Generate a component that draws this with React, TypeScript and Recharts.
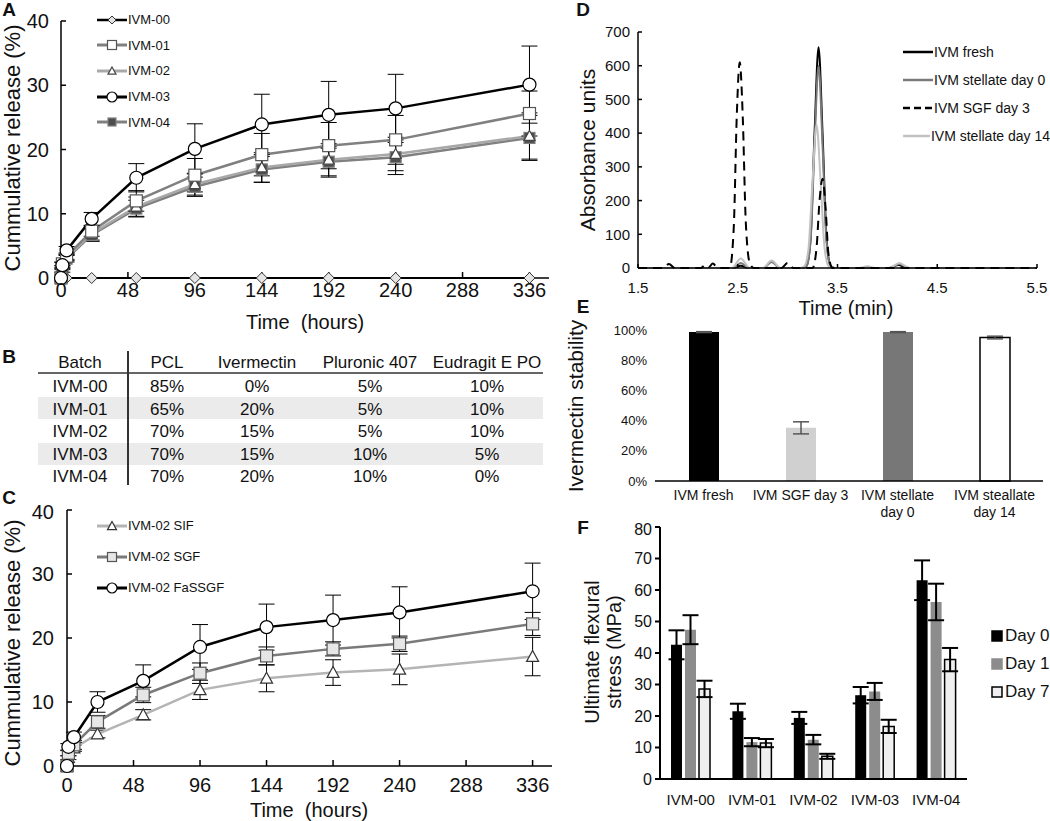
import React from "react";
import { LineChart, Line, BarChart, Bar, Cell, XAxis, YAxis, ErrorBar, Legend } from "recharts";

const FONT = "Arial, 'Liberation Sans', Helvetica, sans-serif";

// ---- A: cumulative release per batch (%)
const hoursA = [0, 1, 4, 22, 54, 96, 144, 192, 240, 336];
const relIvm00 = [0, 0, 0, 0, 0, 0, 0, 0, 0, 0];
const relIvm01 = [0, 2.2, 3.4, 7.3, 12.0, 16.0, 19.2, 20.6, 21.5, 25.6];
const relIvm02 = [0, 1.6, 3.2, 6.9, 11.1, 14.6, 17.2, 18.4, 19.3, 22.1];
const relIvm03 = [0, 2.0, 4.3, 9.2, 15.6, 20.1, 23.9, 25.4, 26.4, 30.1];
const relIvm04 = [0, 1.2, 3.0, 6.7, 10.8, 14.2, 16.9, 18.1, 18.8, 21.8];
const sdIvm01 = [0, 0.3, 0.5, 0.8, 1.6, 2.6, 3.3, 3.6, 3.8, 3.5];
const sdIvm02 = [0, 0.3, 0.5, 1.0, 1.5, 1.7, 2.3, 2.5, 2.6, 3.6];
const sdIvm03 = [0, 0.4, 0.6, 1.0, 2.2, 3.9, 4.7, 5.2, 5.3, 6.0];
const sdIvm04 = [0, 0.3, 0.5, 1.0, 1.3, 1.5, 2.0, 2.4, 2.7, 3.5];
const hourTicks = [0, 48, 96, 144, 192, 240, 288, 336];

// ---- B: composition table
const tableHead = ["Batch", "PCL", "Ivermectin", "Pluronic 407", "Eudragit E PO"];
const batches = ["IVM-00", "IVM-01", "IVM-02", "IVM-03", "IVM-04"];
const pclPct = ["85%", "65%", "70%", "70%", "70%"];
const ivmPct = ["0%", "20%", "15%", "15%", "20%"];
const pluronicPct = ["5%", "5%", "5%", "10%", "10%"];
const eudragitPct = ["10%", "10%", "10%", "5%", "0%"];

// ---- C: IVM-02 release in different media
const hoursC = [0, 1, 5, 22, 55, 96, 144, 192, 240, 336];
const relSIF = [0, 1.3, 2.8, 5.0, 8.0, 11.9, 13.7, 14.6, 15.1, 17.1];
const relSGF = [0, 2.0, 3.3, 6.9, 11.1, 14.5, 17.2, 18.3, 19.1, 22.2];
const relFaSSGF = [0, 3.0, 4.5, 10.0, 13.3, 18.6, 21.7, 22.8, 24.0, 27.3];
const sdSIF = [0, 0.3, 0.5, 0.6, 0.8, 1.5, 2.1, 2.0, 2.4, 3.0];
const sdSGF = [0, 0.4, 0.7, 1.0, 1.2, 1.6, 1.4, 1.1, 1.2, 1.8];
const sdFaSSGF = [0, 0.5, 0.8, 1.6, 2.5, 3.5, 3.6, 3.9, 4.0, 4.4];

// ---- D: chromatograms (min, absorbance)
const freshT = [1.5, 2.45, 2.53, 2.61, 3.15, 3.19, 3.23, 3.27, 3.31, 3.35, 3.39, 3.43, 3.47, 4.02, 4.11, 4.2, 5.5];
const freshY = [0, 0, 7, 0, 0, 7, 88, 400, 655, 400, 88, 7, 0, 0, 9, 0, 0];
const day0T = [1.5, 2.45, 2.53, 2.61, 2.76, 2.84, 2.92, 3.15, 3.19, 3.23, 3.27, 3.31, 3.35, 3.39, 3.43, 3.47, 4.02, 4.12, 4.22, 5.5];
const day0Y = [0, 0, 15, 0, 0, 18, 0, 0, 6, 80, 365, 600, 365, 80, 6, 0, 0, 12, 0, 0];
const day14T = [1.5, 2.44, 2.53, 2.62, 2.75, 2.84, 2.93, 3.13, 3.17, 3.21, 3.25, 3.29, 3.33, 3.37, 3.41, 3.46, 3.72, 3.8, 3.88, 4.02, 4.12, 4.22, 5.5];
const day14Y = [0, 0, 28, 0, 0, 22, 0, 0, 6, 60, 260, 425, 260, 60, 6, 0, 0, 5, 0, 0, 15, 0, 0];
const sgfT = [1.5, 1.75, 1.81, 1.87, 2.13, 2.18, 2.21, 2.25, 2.3, 2.42, 2.46, 2.49, 2.52, 2.55, 2.58, 2.62, 2.66, 2.94, 3.0, 3.06, 3.25, 3.29, 3.32, 3.35, 3.38, 3.41, 3.45, 5.5];
const sgfY = [0, 0, 12, 0, 0, 10, 3, 13, 0, 0, 120, 450, 610, 450, 140, 15, 0, 0, 15, 0, 0, 60, 200, 265, 180, 40, 0, 0];

// ---- E: ivermectin stability (%)
const stabNames = ["IVM fresh", "IVM SGF day 3", "IVM stellate\nday 0", "IVM steallate\nday 14"];
const stabValues = [98.6, 35.2, 98.6, 95.0];
const stabErr = [0.3, 4.0, 0.3, 0.9];

// ---- F: ultimate flexural stress (MPa)
const flexBatches = ["IVM-00", "IVM-01", "IVM-02", "IVM-03", "IVM-04"];
const flexDay0 = [42.6, 21.5, 19.4, 26.6, 63.1];
const flexDay1 = [47.4, 11.7, 12.5, 27.8, 56.2];
const flexDay7 = [28.6, 11.4, 7.2, 16.7, 37.9];
const errDay0 = [4.6, 2.4, 1.9, 2.6, 6.3];
const errDay1 = [4.6, 1.3, 1.5, 2.7, 5.8];
const errDay7 = [2.6, 1.3, 0.8, 2.1, 3.7];

const releaseA = hoursA.map((t, i) => ({
  t,
  ivm00: relIvm00[i], ivm01: relIvm01[i], ivm02: relIvm02[i], ivm03: relIvm03[i], ivm04: relIvm04[i],
  e01: sdIvm01[i], e02: sdIvm02[i], e03: sdIvm03[i], e04: sdIvm04[i],
}));
const releaseC = hoursC.map((t, i) => ({
  t, sif: relSIF[i], sgf: relSGF[i], fassgf: relFaSSGF[i],
  eSif: sdSIF[i], eSgf: sdSGF[i], eFassgf: sdFaSSGF[i],
}));
const toTrace = (ts: number[], ys: number[]) => ts.map((t, i) => ({ t, v: ys[i] }));
const stability = stabNames.map((name, i) => ({ name, value: stabValues[i], err: stabErr[i] }));
const flexRows = flexBatches.map((batch, i) => ({
  batch, d0: flexDay0[i], d1: flexDay1[i], d7: flexDay7[i], e0: errDay0[i], e1: errDay1[i], e7: errDay7[i],
}));

type MarkerKind = "diamond" | "square" | "triangle" | "circle";

const Marker = ({ kind, cx, cy, size, fill, stroke }: any) => {
  const h = size / 2;
  if (kind === "diamond")
    return <polygon points={`${cx},${cy - h} ${cx + h},${cy} ${cx},${cy + h} ${cx - h},${cy}`} fill={fill} stroke={stroke} strokeWidth={1} />;
  if (kind === "square")
    return <rect x={cx - h} y={cy - h} width={size} height={size} fill={fill} stroke={stroke} strokeWidth={1.2} />;
  if (kind === "triangle")
    return <polygon points={`${cx},${cy - h} ${cx + h},${cy + h * 0.8} ${cx - h},${cy + h * 0.8}`} fill={fill} stroke={stroke} strokeWidth={1.2} />;
  return <circle cx={cx} cy={cy} r={h} fill={fill} stroke={stroke} strokeWidth={1.2} />;
};

const seriesA = [
  { key: "ivm00", label: "IVM-00", color: "#000", width: 2, kind: "diamond" as MarkerKind, size: 11, fill: "#e4e4e4", mstroke: "#333", err: "" },
  { key: "ivm01", label: "IVM-01", color: "#808080", width: 2.5, kind: "square" as MarkerKind, size: 12, fill: "#fff", mstroke: "#555", err: "e01" },
  { key: "ivm02", label: "IVM-02", color: "#a8a8a8", width: 2.5, kind: "triangle" as MarkerKind, size: 11, fill: "#fff", mstroke: "#444", err: "e02" },
  { key: "ivm03", label: "IVM-03", color: "#000", width: 2.5, kind: "circle" as MarkerKind, size: 13, fill: "#fff", mstroke: "#000", err: "e03" },
  { key: "ivm04", label: "IVM-04", color: "#808080", width: 2.5, kind: "square" as MarkerKind, size: 11, fill: "#4d4d4d", mstroke: "#808080", err: "e04" },
];
const drawOrderA = ["ivm00", "ivm04", "ivm02", "ivm01", "ivm03"];

const seriesC = [
  { key: "sif", label: "IVM-02 SIF", color: "#b4b4b4", width: 2.5, kind: "triangle" as MarkerKind, size: 12, fill: "#fff", mstroke: "#333", err: "eSif" },
  { key: "sgf", label: "IVM-02 SGF", color: "#7a7a7a", width: 2.5, kind: "square" as MarkerKind, size: 12, fill: "#e6e6e6", mstroke: "#555", err: "eSgf" },
  { key: "fassgf", label: "IVM-02 FaSSGF", color: "#000", width: 2.5, kind: "circle" as MarkerKind, size: 13, fill: "#fff", mstroke: "#000", err: "eFassgf" },
];

const tracesD = [
  { label: "IVM fresh", data: toTrace(freshT, freshY), color: "#000", dash: undefined },
  { label: "IVM stellate day 0", data: toTrace(day0T, day0Y), color: "#7a7a7a", dash: undefined },
  { label: "IVM SGF day 3", data: toTrace(sgfT, sgfY), color: "#000", dash: "9 6" },
  { label: "IVM stellate day 14", data: toTrace(day14T, day14Y), color: "#c2c2c2", dash: undefined },
];
const drawOrderD = [0, 1, 3, 2];

const stabColors = ["#000", "#d0d0d0", "#777", "#fff"];

const flexSeries = [
  { key: "d0", err: "e0", label: "Day 0", fill: "#000", stroke: "#000" },
  { key: "d1", err: "e1", label: "Day 1", fill: "#8c8c8c", stroke: "#8c8c8c" },
  { key: "d7", err: "e7", label: "Day 7", fill: "#efefef", stroke: "#000" },
];

const tickFont = (size: number) => ({ fill: "#111", fontSize: size, fontFamily: FONT });

const Abs = ({ x, y, children, style }: any) => (
  <div style={{ position: "absolute", left: x, top: y, ...style }}>{children}</div>
);

const CenterText = ({ x, y, size, rotate, bold, children }: any) => (
  <div
    style={{
      position: "absolute", left: x, top: y, whiteSpace: "nowrap", lineHeight: 1,
      fontSize: size, fontWeight: bold ? "bold" : "normal", color: "#111",
      transform: `translate(-50%, -50%)${rotate ? " rotate(-90deg)" : ""}`,
    }}
  >
    {children}
  </div>
);

const lineKey = (items: any[], gap: number, fontSize: number) => () => (
  <div style={{ fontFamily: FONT, whiteSpace: "nowrap" }}>
    {items.map((s: any) => (
      <div key={s.label} style={{ display: "flex", alignItems: "center", height: gap }}>
        <svg width={30} height={16}>
          <line x1={0} y1={8} x2={30} y2={8} stroke={s.color} strokeWidth={s.width + 0.5} strokeDasharray={s.dash} />
          {s.kind ? <Marker kind={s.kind} cx={15} cy={8} size={s.size - 3} fill={s.fill} stroke={s.mstroke} /> : null}
        </svg>
        <span style={{ fontSize, color: "#111", marginLeft: 1 }}>{s.label}</span>
      </div>
    ))}
  </div>
);

const StabTick = ({ x, y, payload }: any) => {
  const lines = String(payload.value).split("\n");
  return (
    <text x={x} y={y} textAnchor="middle" fontSize={14} fontFamily={FONT} fill="#111">
      {lines.map((l, i) => (
        <tspan key={i} x={x} y={y + 19 + i * 17}>{l}</tspan>
      ))}
    </text>
  );
};

const flexKey = () => (
  <div style={{ fontFamily: FONT, whiteSpace: "nowrap" }}>
    {flexSeries.map((s) => (
      <div key={s.label} style={{ display: "flex", alignItems: "center", height: 28 }}>
        <svg width={12} height={12}>
          <rect x={1} y={1} width={10} height={10} fill={s.fill} stroke={s.stroke} strokeWidth={1.5} />
        </svg>
        <span style={{ fontSize: 17, color: "#111", marginLeft: 2 }}>{s.label}</span>
      </div>
    ))}
  </div>
);

const releaseChart = (data: any[], series: any[], order: string[], legendTop: number, legendGap: number, height: number, top: number, yW: number, right: number, xH: number, yMargin: number, xMargin: number) => (
  <LineChart width={560} height={height} data={data} margin={{ top, right, left: 0, bottom: 0 }}>
    <XAxis
      dataKey="t" type="number" domain={[0, 350]} ticks={hourTicks} height={xH}
      axisLine={{ stroke: "#000", strokeWidth: 1.5 }} tickLine={{ stroke: "#000", strokeWidth: 1.5 }}
      tickSize={-6} tickMargin={xMargin} tick={tickFont(20)}
    />
    <YAxis
      type="number" domain={[0, 40]} ticks={[0, 10, 20, 30, 40]} width={yW}
      axisLine={{ stroke: "#000", strokeWidth: 1.5 }} tickLine={{ stroke: "#000", strokeWidth: 1.5 }}
      tickSize={-5} tickMargin={yMargin} tick={tickFont(20)}
    />
    {order.map((k) => {
      const s = series.find((x: any) => x.key === k);
      return (
        <Line
          key={k} dataKey={k} stroke={s.color} strokeWidth={s.width} isAnimationActive={false} activeDot={false}
          dot={(p: any) => <Marker key={`${k}-${p.index}`} kind={s.kind} cx={p.cx} cy={p.cy} size={s.size} fill={s.fill} stroke={s.mstroke} />}
        >
          {s.err ? <ErrorBar dataKey={s.err} width={8} stroke="#000" strokeWidth={1} direction="y" /> : null}
        </Line>
      );
    })}
    <Legend
      layout="vertical" align="center" verticalAlign="middle"
      wrapperStyle={{ left: 97, top: legendTop, width: 200 }}
      content={lineKey(series, legendGap, 13)}
    />
  </LineChart>
);

export default function App() {
  return (
    <div style={{ position: "absolute", left: 0, top: 0, width: 1050, height: 821, background: "#fff", overflow: "hidden", fontFamily: FONT }}>
      {/* A */}
      <Abs x={0} y={0}>
        {releaseChart(releaseA, seriesA, drawOrderA, 7, 25.6, 330, 21, 61, 11, 52, 17, 11)}
      </Abs>
      <CenterText x={9} y={9} size={19} bold>A</CenterText>
      <CenterText x={13} y={148} size={22} rotate>Cummulative release (%)</CenterText>
      <CenterText x={305} y={322} size={20}>Time&nbsp; (hours)</CenterText>

      {/* B */}
      <CenterText x={9} y={356} size={19} bold>B</CenterText>
      <div style={{ position: "absolute", left: 38, top: 397, width: 505, height: 22, background: "#ebebeb" }} />
      <div style={{ position: "absolute", left: 38, top: 443, width: 505, height: 22, background: "#ebebeb" }} />
      <div style={{ position: "absolute", left: 38, top: 372, width: 505, height: 2, background: "#666" }} />
      <div style={{ position: "absolute", left: 127, top: 351, width: 1.5, height: 134, background: "#333" }} />
      {tableHead.map((h, c) => (
        <CenterText key={h} x={[80, 167, 257, 370, 487][c]} y={362} size={17}>{h}</CenterText>
      ))}
      {batches.map((b, r) => {
        const row = [b, pclPct[r], ivmPct[r], pluronicPct[r], eudragitPct[r]];
        return row.map((v, c) => (
          <CenterText key={`${r}-${c}`} x={[80, 167, 257, 370, 487][c]} y={386 + r * 22.6} size={17}>{v}</CenterText>
        ));
      })}

      {/* C */}
      <Abs x={0} y={500}>
        {releaseChart(releaseC, seriesC, ["sif", "sgf", "fassgf"], 10, 31, 321, 10, 67, 8, 55, 18, 18)}
      </Abs>
      <CenterText x={9} y={497} size={19} bold>C</CenterText>
      <CenterText x={13} y={643} size={22} rotate>Cummulative release (%)</CenterText>
      <CenterText x={309} y={810} size={20}>Time&nbsp; (hours)</CenterText>

      {/* D */}
      <Abs x={560} y={0}>
        <LineChart width={490} height={320} margin={{ top: 32, right: 13, left: 0, bottom: 0 }}>
          <XAxis
            dataKey="t" type="number" domain={[1.5, 5.5]} ticks={[1.5, 2.5, 3.5, 4.5, 5.5]} height={52}
            axisLine={{ stroke: "#000", strokeWidth: 1.5 }} tickLine={{ stroke: "#000", strokeWidth: 1.5 }}
            tickSize={-4} tickMargin={18} tick={tickFont(15)} tickFormatter={(v: number) => v.toFixed(1)}
          />
          <YAxis
            type="number" domain={[0, 700]} ticks={[0, 100, 200, 300, 400, 500, 600, 700]} width={78}
            axisLine={{ stroke: "#000", strokeWidth: 1.5 }} tickLine={{ stroke: "#000", strokeWidth: 1.5 }}
            tickSize={-4} tickMargin={12} tick={tickFont(15)}
          />
          {drawOrderD.map((i) => {
            const tr = tracesD[i];
            return (
              <Line
                key={tr.label} data={tr.data} dataKey="v" type="monotone" stroke={tr.color} strokeWidth={2}
                strokeDasharray={tr.dash} dot={false} activeDot={false} isAnimationActive={false}
              />
            );
          })}
          <Legend
            layout="vertical" align="center" verticalAlign="middle"
            wrapperStyle={{ left: 343, top: 38, width: 147 }}
            content={lineKey(tracesD.map((t) => ({ label: t.label, color: t.color, width: 2, dash: t.dash ? "7 4" : undefined })), 28, 14)}
          />
        </LineChart>
      </Abs>
      <CenterText x={583} y={9} size={19} bold>D</CenterText>
      <CenterText x={587} y={150} size={21} rotate>Absorbance units</CenterText>
      <CenterText x={846} y={308} size={20}>Time (min)</CenterText>

      {/* E */}
      <Abs x={560} y={310}>
        <BarChart width={490} height={215} data={stability} margin={{ top: 20, right: 7, left: 0, bottom: 0 }} barSize={30}>
          <XAxis
            dataKey="name" height={44} interval={0} axisLine={{ stroke: "#000", strokeWidth: 1.5 }}
            tickLine={false} tickSize={0} tickMargin={0} tick={<StabTick />}
          />
          <YAxis
            type="number" domain={[0, 100]} ticks={[0, 20, 40, 60, 80, 100]} width={95}
            axisLine={false} tickLine={false} tickSize={4} tickMargin={4} tick={tickFont(13)}
            tickFormatter={(v: number) => `${v}%`}
          />
          <Bar dataKey="value" isAnimationActive={false}>
            {stability.map((d, i) => (
              <Cell key={d.name} fill={stabColors[i]} stroke={i === 3 ? "#000" : stabColors[i]} strokeWidth={i === 3 ? 1.5 : 0} />
            ))}
            <ErrorBar dataKey="err" width={8} stroke="#555" strokeWidth={1.5} direction="y" />
          </Bar>
        </BarChart>
      </Abs>
      <CenterText x={583} y={306} size={19} bold>E</CenterText>
      <CenterText x={575} y={406} size={21} rotate>Ivermectin stability</CenterText>

      {/* F */}
      <Abs x={560} y={520}>
        <BarChart width={490} height={300} data={flexRows} margin={{ top: 7, right: 83, left: 0, bottom: 0 }} barSize={11} barGap={3}>
          <XAxis
            dataKey="batch" height={41} interval={0} axisLine={{ stroke: "#000", strokeWidth: 2 }}
            tickLine={false} tickSize={0} tickMargin={15} tick={tickFont(15)}
          />
          <YAxis
            type="number" domain={[0, 80]} ticks={[0, 10, 20, 30, 40, 50, 60, 70, 80]} width={100}
            axisLine={{ stroke: "#000", strokeWidth: 2 }} tickLine={{ stroke: "#000", strokeWidth: 2 }}
            tickSize={5} tickMargin={3} tick={tickFont(16)}
          />
          {flexSeries.map((s) => (
            <Bar key={s.key} dataKey={s.key} fill={s.fill} stroke={s.stroke} strokeWidth={s.key === "d7" ? 1.5 : 0} isAnimationActive={false}>
              <ErrorBar dataKey={s.err} width={8} stroke="#000" strokeWidth={2} direction="y" />
            </Bar>
          ))}
          <Legend
            layout="vertical" align="center" verticalAlign="middle"
            wrapperStyle={{ left: 431, top: 102, width: 59 }}
            content={flexKey}
          />
        </BarChart>
      </Abs>
      <CenterText x={583} y={527} size={19} bold>F</CenterText>
      <CenterText x={592} y={652} size={20} rotate>Ultimate flexural</CenterText>
      <CenterText x={614} y={652} size={20} rotate>stress (MPa)</CenterText>
    </div>
  );
}
